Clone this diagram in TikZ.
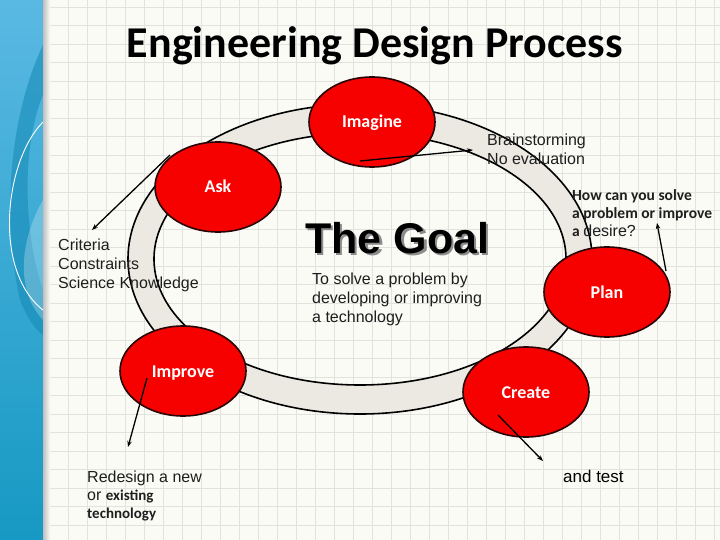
\documentclass[tikz,border=0pt]{standalone}
\usepackage{fontspec}
\setmainfont{Liberation Sans}
\newfontfamily\calfont{Carlito}
\newfontfamily\arialfont{Liberation Sans}
\usetikzlibrary{shapes.geometric,arrows.meta}
\definecolor{bgcol}{HTML}{FBFBF6}
\definecolor{gridcol}{HTML}{E2E2DE}
\definecolor{ringfill}{HTML}{EBE9E1}
\definecolor{stagered}{HTML}{F70000}
\definecolor{stageline}{HTML}{2A0505}
\definecolor{notegray}{HTML}{1E1E1E}
\definecolor{bluetop}{HTML}{5AB9E3}
\definecolor{bluebot}{HTML}{1699C3}
\definecolor{bluedark}{HTML}{1489B5}
\begin{document}
\begin{tikzpicture}[x=1pt,y=-1pt,
  stage/.style={ellipse, draw=stageline, line width=1.6pt, fill=stagered,
    minimum width=126pt, minimum height=90pt, inner sep=0pt, text=white,
    font=\calfont\bfseries\fontsize{18}{18}\selectfont, text height=12pt, text depth=0pt},
  note/.style={inner sep=0pt, align=left, text=notegray, anchor=north west,
    font=\fontsize{16}{19}\selectfont},
  link/.style={line width=1.3pt, draw=black, -{Stealth[length=6pt,width=4.5pt]}},
  gridline/.style={draw=gridcol, line width=0.6pt}]
\useasboundingbox (0,0) rectangle (720,540);
% background and grid
\fill[bgcol] (0,0) rectangle (720,540);
\foreach \i in {0,...,37} \draw[gridline] ({11+19*\i},0) -- ({11+19*\i},540);
\foreach \j in {0,...,29} \draw[gridline] (0,{7+18.5*\j}) -- (720,{7+18.5*\j});
% left blue panel
\shade[top color=bluetop, bottom color=bluebot] (0,0) rectangle (43,540);
\fill[bluedark, opacity=0.55] (43,45) .. controls (12,110) and (0,210) .. (20,300)
  .. controls (28,320) and (36,330) .. (43,335) -- (43,290) .. controls (25,240) and (20,150) .. (43,95) -- cycle;
\fill[white, opacity=0.25] (43,200) .. controls (20,240) and (15,290) .. (43,320) -- cycle;
\draw[white, line width=0.9pt] (43,122) .. controls (5,160) and (-8,270) .. (43,310);
\shade[left color=black!25, right color=bgcol] (43,0) rectangle (50,540);
% ring
\fill[ringfill, even odd rule] (360,259) ellipse [x radius=232pt, y radius=155pt]
  (360,259) ellipse [x radius=206pt, y radius=126pt];
\draw[line width=1.6pt] (360,259) ellipse [x radius=232pt, y radius=155pt];
\draw[line width=1.6pt] (360,259) ellipse [x radius=206pt, y radius=126pt];
% title
\node[anchor=base, inner sep=0pt, font=\calfont\bfseries\fontsize{44}{44}\selectfont] (title) at (375,58) {Engineering Design Process};
% stages
\node[stage] (imagine) at (372,122) {Imagine};
\node[stage] (ask) at (218,187) {Ask};
\node[stage] (plan) at (607,292) {Plan};
\node[stage] (create) at (526,392) {Create};
\node[stage] (improve) at (183,371) {Improve};
% goal (with drop shadow)
\node[anchor=base west, inner sep=0pt, font=\bfseries\fontsize{43}{43}\selectfont] (goal) at (305,253)
  {\rlap{\hspace{2.5pt}\raisebox{-2.5pt}{\textcolor{black!45}{The Goal}}}The Goal};
% notes
\node[note] (brain) at (487,133.4) {Brainstorming\\No evaluation};
\node[note] (crit) at (58,238.4) {Criteria\\Constraints\\Science Knowledge};
\node[note] (solve) at (312,272.4) {To solve a problem by\\developing or improving\\a technology};
\node[note, font=\calfont\bfseries\fontsize{15.5}{18}\selectfont] (how) at (572,189.4)
  {How can you solve\\a problem or improve\\a {\arialfont\mdseries\fontsize{16}{18}\selectfont desire?}};
\node[note, font=\fontsize{16}{18}\selectfont] (redesign) at (87,470.4)
  {Redesign a new\\or {\calfont\bfseries\fontsize{15}{18}\selectfont existing}\\{\calfont\bfseries\fontsize{15}{18}\selectfont technology}};
\node[anchor=base west, inner sep=0pt, text=black, font=\fontsize{17}{17}\selectfont] (test) at (563,482) {and test};
% connectors
\coordinate (imS) at (360,161); \coordinate (imE) at (473,150);
\coordinate (askS) at (170,155); \coordinate (askE) at (92,230);
\coordinate (plS) at (666,271); \coordinate (plE) at (657,223);
\coordinate (impS) at (147,378); \coordinate (impE) at (128,447);
\coordinate (crS) at (498,415); \coordinate (crE) at (543,461);
\draw[link] (imS) -- (imE);
\draw[link] (askS) -- (askE);
\draw[link] (plS) -- (plE);
\draw[link] (impS) -- (impE);
\draw[link] (crS) -- (crE);
\end{tikzpicture}
\end{document}
